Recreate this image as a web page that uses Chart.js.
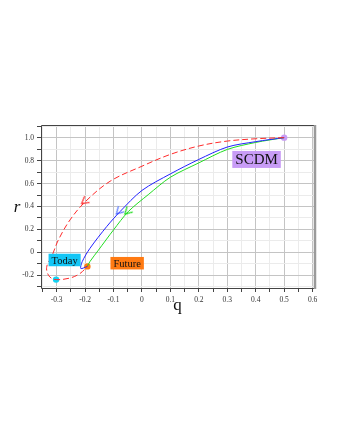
<!DOCTYPE html>
<html>
<head>
<meta charset="utf-8">
<script src="https://cdn.jsdelivr.net/npm/chart.js@4"></script>
<style>
  html, body { margin: 0; padding: 0; background: #fff; }
  #wrap { width: 340px; height: 440px; position: relative; }
</style>
</head>
<body>
<div id="wrap"><canvas id="rqChart"></canvas></div>
<script>
// statefinder trajectories in the (q, r) plane
const qRed = [0.5, 0.4, 0.3, 0.2, 0.1, 0, -0.112, -0.2, -0.253, -0.294, -0.318, -0.332, -0.335, -0.324, -0.302, -0.253, -0.218, -0.192];
const rRed = [1.0, 0.99, 0.97, 0.927, 0.854, 0.751, 0.62, 0.44, 0.283, 0.108, -0.039, -0.1, -0.155, -0.214, -0.237, -0.223, -0.184, -0.122];

const qBlue = [0.5, 0.4, 0.3, 0.2, 0.1, 0, -0.077, -0.124, -0.183, -0.21, -0.215, -0.192];
const rBlue = [1.0, 0.965, 0.918, 0.81, 0.684, 0.54, 0.356, 0.225, 0.035, -0.08, -0.14, -0.122];

const qGreen = [0.5, 0.4, 0.3, 0.2, 0.1, 0.022, -0.048, -0.1, -0.153, -0.183, -0.192];
const rGreen = [1.0, 0.958, 0.897, 0.78, 0.655, 0.503, 0.356, 0.196, 0.02, -0.08, -0.122];

// marked states
const pointNames = ['SCDM', 'Today', 'Future'];
const pointQ = [0.5, -0.302, -0.192];
const pointR = [1.0, -0.237, -0.122];

// direction arrows on the curves
const arrowQ = [-0.201, -0.08, -0.05];
const arrowR = [0.447, 0.36, 0.358];

const xTicks = [-0.3, -0.2, -0.1, 0, 0.1, 0.2, 0.3, 0.4, 0.5, 0.6];
const yTicks = [-0.2, 0, 0.2, 0.4, 0.6, 0.8, 1.0];

const toXY = (qs, rs) => qs.map((q, i) => ({ x: q, y: rs[i] }));

function chevron(color) {
    const c = document.createElement('canvas');
    c.width = 12; c.height = 12;
    const g = c.getContext('2d');
    g.strokeStyle = color;
    g.lineWidth = 1.3;
    g.beginPath();
    g.moveTo(3, 2); g.lineTo(10, 6); g.lineTo(3, 10);
    g.stroke();
    return c;
}

const serif = '"Liberation Serif", "DejaVu Serif", serif';
const isOn = (v, list) => list.some(t => Math.abs(t - v) < 1e-6);
const fmt = v => Math.abs(v) < 1e-9 ? '0' : (Math.abs(v) >= 1 ? v.toFixed(1) : String(+v.toFixed(1)));

const labelBoxes = {
    id: 'labelBoxes',
    afterDraw(chart) {
        const { ctx, chartArea: a, scales: { x, y } } = chart;
        ctx.save();
        // frame
        ctx.strokeStyle = '#444';
        ctx.lineWidth = 1;
        ctx.beginPath();
        ctx.moveTo(a.right, a.top + 0.5); ctx.lineTo(a.left + 0.5, a.top + 0.5);
        ctx.lineTo(a.left + 0.5, a.bottom + 0.5); ctx.lineTo(a.right, a.bottom + 0.5);
        ctx.stroke();
        ctx.strokeStyle = '#9a9a9a';
        ctx.lineWidth = 2.5;
        ctx.beginPath();
        ctx.moveTo(a.right + 1, a.top); ctx.lineTo(a.right + 1, a.bottom + 1);
        ctx.stroke();

        const boxes = [
            { text: 'SCDM', q: 0.403, r: 0.81, bg: '#c89cf6', size: 15 },
            { text: 'Today', q: -0.272, r: -0.066, bg: '#14c6f6', size: 10.5 },
            { text: 'Future', q: -0.052, r: -0.094, bg: '#ff7a12', size: 10.5 }
        ];
        ctx.textAlign = 'center';
        ctx.textBaseline = 'middle';
        boxes.forEach(b => {
            ctx.font = b.size + 'px ' + serif;
            const w = ctx.measureText(b.text).width + 6;
            const h = b.size + 2;
            const cx = x.getPixelForValue(b.q), cy = y.getPixelForValue(b.r);
            ctx.fillStyle = b.bg;
            ctx.fillRect(cx - w / 2, cy - h / 2, w, h);
            ctx.fillStyle = '#111';
            ctx.fillText(b.text, cx, cy + 1);
        });

        // axis titles
        ctx.fillStyle = '#111';
        ctx.font = '17px ' + serif;
        ctx.fillText('q', (a.left + a.right) / 2, 306);
        ctx.font = 'italic 17px ' + serif;
        ctx.fillText('r', 17, (a.top + a.bottom) / 2 + 1);
        ctx.restore();
    }
};

new Chart(document.getElementById('rqChart').getContext('2d'), {
    type: 'scatter',
    data: {
        datasets: [
            {
                data: toXY(qRed, rRed), showLine: true, borderColor: '#ff2a2a',
                borderWidth: 1, borderDash: [6, 3], tension: 0.35, pointRadius: 0
            },
            {
                data: toXY(qBlue, rBlue), showLine: true, borderColor: '#2222ff',
                borderWidth: 1, tension: 0.3, pointRadius: 0
            },
            {
                data: toXY(qGreen, rGreen), showLine: true, borderColor: '#22dd22',
                borderWidth: 1, tension: 0.3, pointRadius: 0
            },
            {
                data: toXY(arrowQ, arrowR), showLine: false,
                pointStyle: [chevron('#ff2a2a'), chevron('#5577ff'), chevron('#22dd22')],
                rotation: [142, 135, 135], pointRadius: 6
            },
            {
                data: toXY(pointQ, pointR), showLine: false,
                pointBackgroundColor: ['#c89cf6', '#10d4f4', '#ff7a12'],
                pointBorderWidth: 0, pointRadius: 3.2
            }
        ]
    },
    options: {
        responsive: true,
        maintainAspectRatio: false,
        animation: false,
        layout: { padding: { left: 0, top: 125, right: 26, bottom: 130 } },
        plugins: { legend: { display: false }, tooltip: { enabled: false } },
        scales: {
            x: {
                type: 'linear', min: -0.355, max: 0.605,
                afterFit: s => { s.height = 22; },
                border: { display: false },
                grid: {
                    color: c => isOn(c.tick.value, xTicks) ? '#c4c4c4' : '#ebebeb',
                    tickColor: '#444', tickLength: 4
                },
                ticks: {
                    stepSize: 0.05, includeBounds: false, autoSkip: false, maxRotation: 0,
                    padding: 4, color: '#333', font: { family: serif, size: 7.5 },
                    callback: v => isOn(v, xTicks) ? fmt(v) : ''
                }
            },
            y: {
                type: 'linear', min: -0.31, max: 1.11,
                afterFit: s => { s.width = 41; },
                border: { display: false },
                grid: {
                    color: c => isOn(c.tick.value, yTicks) ? '#c4c4c4' : '#ebebeb',
                    tickColor: '#444', tickLength: 4
                },
                ticks: {
                    stepSize: 0.1, includeBounds: false, autoSkip: false,
                    padding: 3, color: '#333', font: { family: serif, size: 7.5 },
                    callback: v => isOn(v, yTicks) ? fmt(v) : ''
                }
            }
        }
    },
    plugins: [labelBoxes]
});
</script>
</body>
</html>
